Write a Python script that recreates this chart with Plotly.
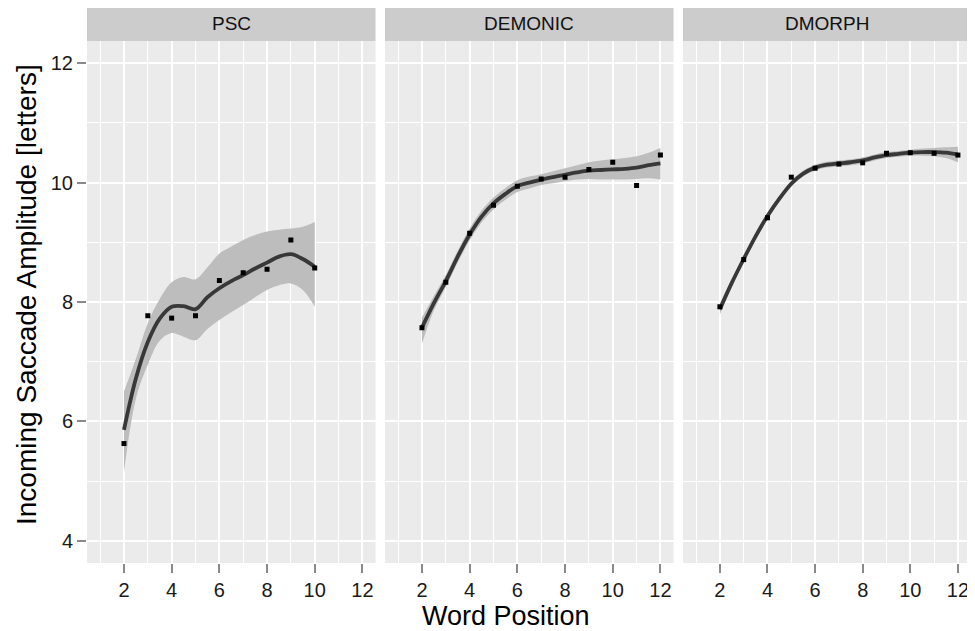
import plotly.graph_objects as go

# ---- data ----
panels = ["PSC", "DEMONIC", "DMORPH"]

# observed means (word position -> amplitude)
psc_pos = [2, 3, 4, 5, 6, 7, 8, 9, 10]
psc_obs = [5.63, 7.77, 7.73, 7.77, 8.36, 8.49, 8.55, 9.04, 8.57]

dem_pos = [2, 3, 4, 5, 6, 7, 8, 9, 10, 11, 12]
dem_obs = [7.57, 8.33, 9.15, 9.62, 9.94, 10.06, 10.09, 10.22, 10.34, 9.95, 10.46]

dmo_pos = [2, 3, 4, 5, 6, 7, 8, 9, 10, 11, 12]
dmo_obs = [7.92, 8.71, 9.41, 10.09, 10.24, 10.31, 10.33, 10.49, 10.50, 10.49, 10.46]

# loess smooth with confidence band
psc_sx = [2, 2.5, 3, 3.5, 4, 4.5, 5, 5.5, 6, 6.5, 7, 7.5, 8, 8.5, 9, 9.5, 10]
psc_fit = [5.86, 6.72, 7.33, 7.72, 7.92, 7.93, 7.88, 8.08, 8.23, 8.35, 8.45, 8.56, 8.66, 8.76, 8.80, 8.72, 8.59]
psc_hi = [6.50, 7.05, 7.65, 8.05, 8.33, 8.42, 8.38, 8.58, 8.81, 8.93, 9.04, 9.12, 9.18, 9.21, 9.23, 9.26, 9.34]
psc_lo = [5.15, 6.38, 6.95, 7.35, 7.48, 7.42, 7.36, 7.55, 7.70, 7.83, 7.95, 8.08, 8.20, 8.28, 8.31, 8.20, 7.92]

dem_sx = [2, 2.5, 3, 3.5, 4, 4.5, 5, 5.5, 6, 6.5, 7, 7.5, 8, 8.5, 9, 9.5, 10, 10.5, 11, 11.5, 12]
dem_fit = [7.57, 7.98, 8.35, 8.76, 9.13, 9.43, 9.65, 9.81, 9.94, 10.00, 10.05, 10.09, 10.13, 10.17, 10.20, 10.21, 10.22, 10.23, 10.25, 10.29, 10.32]
dem_hi = [7.74, 8.10, 8.45, 8.86, 9.23, 9.53, 9.75, 9.91, 10.04, 10.10, 10.14, 10.19, 10.24, 10.29, 10.34, 10.37, 10.39, 10.41, 10.44, 10.50, 10.58]
dem_lo = [7.30, 7.86, 8.25, 8.66, 9.03, 9.33, 9.55, 9.71, 9.84, 9.90, 9.96, 9.99, 10.02, 10.05, 10.06, 10.05, 10.05, 10.05, 10.06, 10.07, 10.05]

dmo_sx = [2, 2.5, 3, 3.5, 4, 4.5, 5, 5.5, 6, 6.5, 7, 7.5, 8, 8.5, 9, 9.5, 10, 10.5, 11, 11.5, 12]
dmo_fit = [7.88, 8.32, 8.72, 9.10, 9.44, 9.73, 9.98, 10.15, 10.25, 10.30, 10.32, 10.34, 10.37, 10.42, 10.46, 10.48, 10.50, 10.51, 10.51, 10.50, 10.47]
dmo_hi = [7.97, 8.38, 8.77, 9.15, 9.49, 9.78, 10.03, 10.20, 10.30, 10.35, 10.37, 10.39, 10.42, 10.47, 10.51, 10.53, 10.55, 10.57, 10.58, 10.59, 10.60]
dmo_lo = [7.79, 8.26, 8.67, 9.05, 9.39, 9.68, 9.93, 10.10, 10.20, 10.25, 10.27, 10.29, 10.32, 10.37, 10.41, 10.43, 10.45, 10.45, 10.44, 10.41, 10.34]

x_ticks = [2, 4, 6, 8, 10, 12]
y_ticks = [4, 6, 8, 10, 12]

series = [
    (psc_pos, psc_obs, psc_sx, psc_fit, psc_hi, psc_lo),
    (dem_pos, dem_obs, dem_sx, dem_fit, dem_hi, dem_lo),
    (dmo_pos, dmo_obs, dmo_sx, dmo_fit, dmo_hi, dmo_lo),
]

# ---- figure ----
FONT = "Liberation Sans, Arial, sans-serif"
OFF = 8                      # page body margin of the browser
W, H = 975 - OFF, 631 - OFF
ML, MR, MT, MB = 87 - OFF, 4, 41 - OFF, 68
PW = W - ML - MR
PH = H - MT - MB
STRIP = 34

fig = go.Figure()
domains = [[0.0, 0.3264], [0.3371, 0.6635], [0.6742, 1.0]]

for i, (pos, obs, sx, fit, hi, lo) in enumerate(series):
    xa = "x" if i == 0 else f"x{i+1}"
    ya = "y" if i == 0 else f"y{i+1}"
    fig.add_trace(go.Scatter(x=sx, y=lo, mode="lines", line=dict(width=0, shape="spline"),
                             hoverinfo="skip", showlegend=False, xaxis=xa, yaxis=ya))
    fig.add_trace(go.Scatter(x=sx, y=hi, mode="lines", line=dict(width=0, shape="spline"),
                             fill="tonexty", fillcolor="#BDBDBD",
                             hoverinfo="skip", showlegend=False, xaxis=xa, yaxis=ya))
    fig.add_trace(go.Scatter(x=sx, y=fit, mode="lines",
                             line=dict(color="#383838", width=3.8, shape="spline"),
                             showlegend=False, xaxis=xa, yaxis=ya))
    fig.add_trace(go.Scatter(x=pos, y=obs, mode="markers",
                             marker=dict(color="black", size=5, symbol="square"),
                             showlegend=False, xaxis=xa, yaxis=ya))

    xkey = "xaxis" if i == 0 else f"xaxis{i+1}"
    ykey = "yaxis" if i == 0 else f"yaxis{i+1}"
    fig.layout[xkey] = dict(
        domain=domains[i], anchor=ya, range=[0.45, 12.55],
        tickvals=x_ticks, ticktext=[str(v) for v in x_ticks],
        showgrid=True, gridcolor="white", gridwidth=2.2,
        minor=dict(tickvals=[1, 3, 5, 7, 9, 11], showgrid=True, gridcolor="white", gridwidth=1.4, ticks=""),
        zeroline=False, showline=False,
        ticks="outside", ticklen=9, tickwidth=1.5, tickcolor="#8a8a8a",
        tickfont=dict(family=FONT, size=20, color="#1a1a1a"),
    )
    fig.layout[ykey] = dict(
        domain=[0, 1], anchor=xa, range=[3.63, 12.37],
        tickvals=y_ticks, ticktext=[str(v) for v in y_ticks],
        showgrid=True, gridcolor="white", gridwidth=2.2,
        minor=dict(tickvals=[5, 7, 9, 11], showgrid=True, gridcolor="white", gridwidth=1.4, ticks=""),
        zeroline=False, showline=False,
        ticks="outside" if i == 0 else "", ticklen=9, tickwidth=1.5, tickcolor="#8a8a8a",
        showticklabels=(i == 0),
        tickfont=dict(family=FONT, size=20, color="#1a1a1a"),
    )
    if i > 0:
        fig.layout[ykey]["matches"] = "y"

    # facet strip
    fig.add_shape(type="rect", xref=f"{xa} domain", yref="paper",
                  x0=0, x1=1, y0=1, y1=1 + STRIP / PH,
                  fillcolor="#CCCCCC", line=dict(width=0), layer="below")
    fig.add_annotation(text=panels[i], xref=f"{xa} domain", yref="paper",
                       x=0.5, y=1 + STRIP / 2 / PH, showarrow=False,
                       font=dict(family=FONT, size=19, color="#111111"),
                       xanchor="center", yanchor="middle")

fig.add_annotation(text="Word Position", xref="paper", yref="paper",
                   x=(506 - 87) / PW, y=-(616 - 563) / PH, showarrow=False,
                   font=dict(family=FONT, size=27, color="black"),
                   xanchor="center", yanchor="middle")
fig.add_annotation(text="Incoming Saccade Amplitude [letters]", xref="paper", yref="paper",
                   x=(26 - 87) / PW, y=1 - (295 - 41) / PH, showarrow=False, textangle=-90,
                   font=dict(family=FONT, size=28, color="black"),
                   xanchor="center", yanchor="middle")

fig.update_layout(
    width=W, height=H,
    margin=dict(l=ML, r=MR, t=MT, b=MB),
    paper_bgcolor="white", plot_bgcolor="#EBEBEB",
    showlegend=False,
    font=dict(family=FONT),
)

fig.write_html("out.html")
